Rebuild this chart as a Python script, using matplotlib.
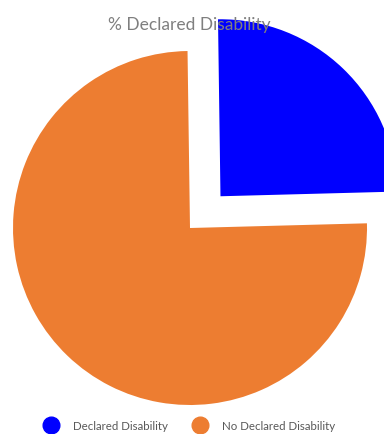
import matplotlib
matplotlib.use("Agg")
import matplotlib.pyplot as plt
from matplotlib.lines import Line2D

plt.rcParams['font.family'] = ['Lato', 'DejaVu Sans']

labels = ['Declared Disability', 'No Declared Disability']
shares = [24.8, 75.2]
colors = ['#0000FF', '#ED7D31']

W, H = 384, 435
fig = plt.figure(figsize=(W / 100., H / 100.), dpi=100)
ax = fig.add_axes([0, 0, 1, 1])

# pie drawn in pixel units; explode is an absolute offset in those units
ax.pie(shares, colors=colors, explode=[44, 0], startangle=90.8,
       counterclock=False, center=(190, H - 229), radius=177,
       wedgeprops=dict(linewidth=0))
ax.set_xlim(0, W)
ax.set_ylim(0, H)
ax.set_aspect('equal')
ax.axis('off')

fig.text(189 / W, 1 - 25 / H, '% Declared Disability', ha='center', va='center',
         fontsize=12.5, color='#7f7f7f')

handles = [Line2D([], [], marker='o', linestyle='none', markersize=12,
                  markerfacecolor=c, markeredgecolor=c) for c in colors]
fig.legend(handles, labels, loc='center', bbox_to_anchor=(0.487, 1 - 427 / H),
           ncol=2, frameon=False, fontsize=8.3, labelcolor='#595959',
           handletextpad=0.9, columnspacing=1.8)

fig.savefig('out.png', dpi=100)
